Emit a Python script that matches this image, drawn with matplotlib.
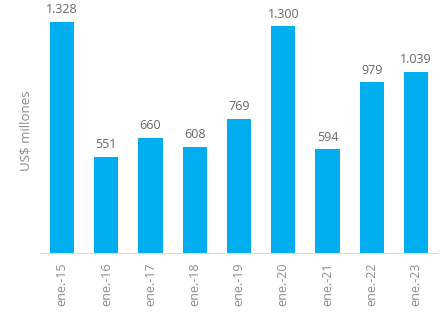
import matplotlib.pyplot as plt

# datos
categorias = ["ene.-15", "ene.-16", "ene.-17", "ene.-18", "ene.-19",
              "ene.-20", "ene.-21", "ene.-22", "ene.-23"]
valores = [1328, 551, 660, 608, 769, 1300, 594, 979, 1039]

plt.rcParams['font.family'] = ['Open Sans', 'DejaVu Sans']
gris = "#8c8c8c"

fig = plt.figure(figsize=(4.48, 3.22), dpi=100)
ax = fig.add_axes([40 / 448, 69 / 322, 398 / 448, 244 / 322])

x = range(len(categorias))
barras = ax.bar(x, valores, width=0.55, color="#00AEEF")

for b, v in zip(barras, valores):
    etiqueta = f"{v:,}".replace(",", ".")
    ax.annotate(etiqueta, (b.get_x() + b.get_width() / 2, v),
                xytext=(0, 4), textcoords="offset points",
                ha="center", va="bottom", fontsize=9, color="#666666")

ax.set_xlim(-0.5, len(categorias) - 0.5)
ax.set_ylim(0, 1400)
ax.set_xticks(list(x))
ax.set_xticklabels(categorias, rotation=90, fontsize=9, color=gris)
ax.tick_params(axis="x", length=0, pad=7)
ax.set_yticks([])
ax.set_ylabel("US$ millones", fontsize=9.5, color=gris)
ax.yaxis.set_label_coords(-0.02, 0.5)

for lado in ["top", "right", "left"]:
    ax.spines[lado].set_visible(False)
ax.spines["bottom"].set_color("#d9d9d9")

fig.savefig("out.png", dpi=100)
